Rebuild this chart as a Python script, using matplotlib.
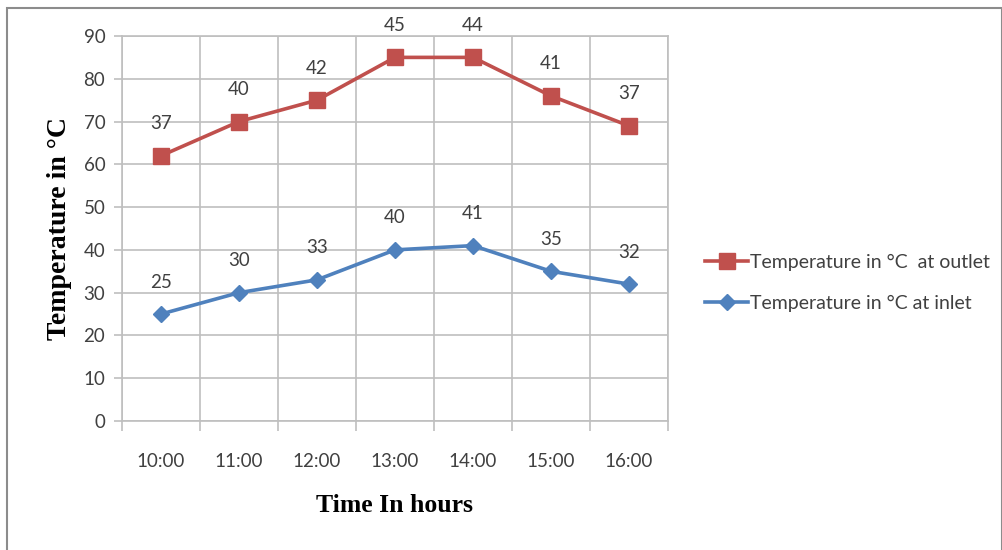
import matplotlib
matplotlib.use("Agg")
import matplotlib.pyplot as plt
import numpy as np
from matplotlib.patches import Rectangle

# Stacked line chart: the outlet series is drawn on top of the inlet series
hours = ["10:00", "11:00", "12:00", "13:00", "14:00", "15:00", "16:00"]
inlet = [25, 30, 33, 40, 41, 35, 32]
outlet = [37, 40, 42, 45, 44, 41, 37]
y_ticks = [0, 10, 20, 30, 40, 50, 60, 70, 80, 90]

RED = "#C0504D"
BLUE = "#4F81BD"
GRID = "#BFBFBF"
TEXT = "#404040"
TICK_FONT = "Lato"

x = np.arange(len(hours))
inlet_arr = np.array(inlet)
outlet_top = inlet_arr + np.array(outlet)

fig = plt.figure(figsize=(10.03, 5.5), dpi=100, facecolor="white")
ax = fig.add_axes([122 / 1003, 1 - 421 / 550, (668 - 122) / 1003, (421 - 36) / 550])

l_out, = ax.plot(x, outlet_top, color=RED, lw=2.6, marker="s", ms=11.5,
                 label="Temperature in °C  at outlet", zorder=3)
l_in, = ax.plot(x, inlet_arr, color=BLUE, lw=2.6, marker="D", ms=8.5,
                label="Temperature in °C at inlet", zorder=3)

for xi, yi, v in zip(x, outlet_top, outlet):
    ax.annotate(str(v), (xi, yi), xytext=(0, 23), textcoords="offset points",
                ha="center", va="center", fontsize=13.5, color=TEXT,
                family=TICK_FONT)
for xi, yi, v in zip(x, inlet_arr, inlet):
    ax.annotate(str(v), (xi, yi), xytext=(0, 23), textcoords="offset points",
                ha="center", va="center", fontsize=13.5, color=TEXT,
                family=TICK_FONT)

ax.set_xlim(-0.5, len(hours) - 0.5)
ax.set_ylim(0, 90)
ax.set_yticks(y_ticks)
ax.set_xticks(x)
ax.set_xticklabels(hours)
ax.set_xticks(np.arange(-0.5, len(hours)), minor=True)

ax.grid(True, axis="y", color=GRID, lw=1.2)
ax.grid(True, axis="x", which="minor", color=GRID, lw=1.2)
ax.set_axisbelow(True)

for side in ["left", "bottom", "top", "right"]:
    ax.spines[side].set_color(GRID)
    ax.spines[side].set_linewidth(1.2)

ax.tick_params(axis="x", which="major", length=0, pad=23, labelsize=13.5,
               labelcolor=TEXT)
ax.tick_params(axis="x", which="minor", length=7, color=GRID, width=1.2)
ax.tick_params(axis="y", length=6, color=GRID, width=1.2, labelsize=13.5,
               labelcolor=TEXT, pad=6)
for lab in ax.get_xticklabels() + ax.get_yticklabels():
    lab.set_family(TICK_FONT)

ax.set_xlabel("Time In hours", family="Liberation Serif", fontweight="bold",
              fontsize=18.5, labelpad=17)
ax.set_ylabel("Temperature in °C", family="Liberation Serif", fontweight="bold",
              fontsize=20, labelpad=8)

leg = fig.legend(handles=[l_out, l_in], loc="upper left",
                 bbox_to_anchor=(688 / 1003, 1 - 236 / 550), frameon=False,
                 prop={"family": TICK_FONT, "size": 14}, handlelength=2.2,
                 handletextpad=0.1, labelspacing=1.25, labelcolor=TEXT)

# Outer chart frame
fig.patches.append(Rectangle((7 / 1003, -0.01), 0.999 - 7 / 1003, 1 - 8 / 550 + 0.01,
                             transform=fig.transFigure, fill=False,
                             edgecolor="#8C8C8C", lw=1.5))

fig.savefig("out.png", dpi=100, facecolor="white")
